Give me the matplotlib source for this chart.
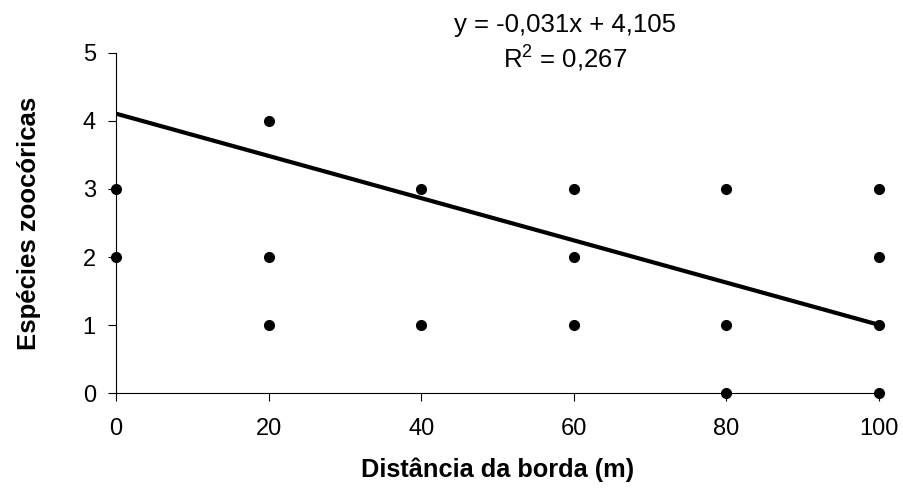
import numpy as np
import matplotlib.pyplot as plt

plt.rcParams['font.family'] = ['Liberation Sans', 'DejaVu Sans']

# distance from edge (m) and number of zoochoric species
dist = [0, 0, 20, 20, 20, 40, 40, 60, 60, 60, 80, 80, 80, 100, 100, 100, 100]
species = [3, 2, 4, 2, 1, 3, 1, 3, 2, 1, 3, 1, 0, 3, 2, 1, 0]

# trend line from the reference
slope = -0.031
intercept = 4.105
r2 = 0.267

fig = plt.figure(figsize=(9.04, 4.92), dpi=100)
ax = fig.add_axes([0.1283, 0.2006, 0.8441, 0.6923])

xl = np.array([0, 100])
ax.plot(xl, slope * xl + intercept, color='black', lw=3, solid_capstyle='butt', zorder=2)
ax.plot(dist, species, 'o', color='black', ms=7, clip_on=False, zorder=3)

ax.set_xlim(0, 100)
ax.set_ylim(0, 5)
ax.set_xticks([0, 20, 40, 60, 80, 100])
ax.set_yticks([0, 1, 2, 3, 4, 5])
ax.spines['top'].set_visible(False)
ax.spines['right'].set_visible(False)
ax.spines['left'].set_linewidth(0.8)
ax.spines['bottom'].set_linewidth(0.8)
ax.tick_params(labelsize=17, length=5.5, width=0.8)
ax.tick_params(axis='x', pad=12)
ax.tick_params(axis='y', pad=9)

ax.set_xlabel('Distância da borda (m)', fontsize=18.3, fontweight='bold', labelpad=13)
ax.set_ylabel('Espécies zoocóricas', fontsize=18.5, fontweight='bold', labelpad=30)

eq = 'y = %s' % f'{slope:.3f}x + {intercept:.3f}'.replace('.', ',')
fig.text(0.6255, 0.935, eq, ha='center', va='baseline', fontsize=18.5)
fig.text(0.6255, 0.862, '$\\mathregular{R^2}$ = ' + f'{r2:.3f}'.replace('.', ','),
         ha='center', va='baseline', fontsize=18.5)

fig.savefig('out.png', dpi=100)
